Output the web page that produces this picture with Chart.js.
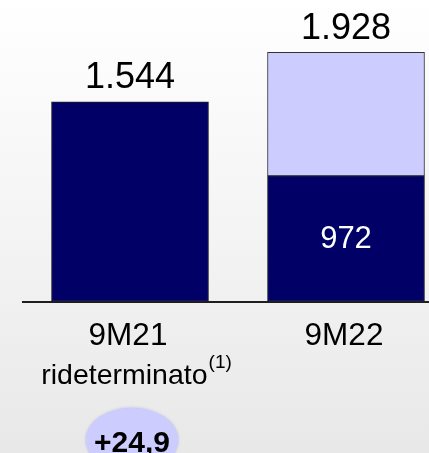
<!DOCTYPE html>
<html>
<head>
<meta charset="utf-8">
<script src="https://cdn.jsdelivr.net/npm/chart.js@4/dist/chart.umd.min.js"></script>
<style>
  html, body { margin: 0; padding: 0; }
  #frame {
    width: 429px; height: 453px; overflow: hidden; position: relative;
    background: linear-gradient(to bottom, #ffffff 0%, #f3f3f3 55%, #e8e8e8 100%);
  }
  #chart { position: absolute; left: 0; top: 0; }
</style>
</head>
<body>
<div id="frame"><canvas id="chart" width="454" height="453"></canvas></div>
<script>
// Periods and their second label line (with footnote mark)
const categories = ['9M21', '9M22'];
const categoryNotes = ['rideterminato', ''];
const noteMarks = ['(1)', ''];

// Stacked values (millions): dark base segment and light upper segment
const baseValues = [1544, 972];
const upperValues = [null, 956];

const totals = baseValues.map((v, i) => v + (upperValues[i] || 0));
const growthPct = (totals[1] / totals[0] - 1) * 100;
const growthLabel = '+' + growthPct.toFixed(1).replace('.', ',');

const NAVY = '#000066';
const LAVENDER = '#ccccff';
const FONT = '"Liberation Sans", Arial, sans-serif';

function fmtThousands(v) {
  return String(v).replace(/\B(?=(\d{3})+(?!\d))/g, '.');
}

const annotations = {
  id: 'annotations',
  afterDatasetsDraw(chart) {
    const { ctx, chartArea, scales } = chart;
    const x = scales.x, y = scales.y;
    ctx.save();

    // baseline axis
    ctx.strokeStyle = '#1e1e1e';
    ctx.lineWidth = 2;
    ctx.beginPath();
    ctx.moveTo(chartArea.left, chartArea.bottom + 0.5);
    ctx.lineTo(chart.width, chartArea.bottom + 0.5);
    ctx.stroke();

    categories.forEach((cat, i) => {
      const cx = x.getPixelForValue(i);

      // total above each bar
      ctx.fillStyle = '#000';
      ctx.font = '36px ' + FONT;
      ctx.textAlign = 'center';
      ctx.textBaseline = 'alphabetic';
      ctx.fillText(fmtThousands(totals[i]), cx, y.getPixelForValue(totals[i]) - 13.5);

      // base segment value inside stacked bars
      if (upperValues[i] != null) {
        const yMid = (y.getPixelForValue(0) + y.getPixelForValue(baseValues[i])) / 2;
        ctx.fillStyle = '#ffffff';
        ctx.font = '31px ' + FONT;
        ctx.textBaseline = 'middle';
        ctx.fillText(fmtThousands(baseValues[i]), cx, yMid + 1);
      }

      // category label
      ctx.fillStyle = '#000';
      ctx.textBaseline = 'alphabetic';
      ctx.font = '31.5px ' + FONT;
      ctx.textAlign = 'center';
      ctx.fillText(cat, cx - 2, chartArea.bottom + 43.5);

      // second line with superscript footnote
      if (categoryNotes[i]) {
        ctx.font = '28.5px ' + FONT;
        const w1 = ctx.measureText(categoryNotes[i]).width;
        ctx.font = '19px ' + FONT;
        const w2 = ctx.measureText(noteMarks[i]).width;
        const startX = cx + 6 - (w1 + w2) / 2;
        ctx.textAlign = 'left';
        ctx.font = '28.5px ' + FONT;
        ctx.fillText(categoryNotes[i], startX, chartArea.bottom + 82);
        ctx.font = '19px ' + FONT;
        ctx.fillText(noteMarks[i], startX + w1 + 1, chartArea.bottom + 66);
      }
    });

    // growth bubble under the first period
    const bx = x.getPixelForValue(0) + 2;
    const by = 440;
    ctx.save();
    ctx.shadowColor = 'rgba(160,160,230,0.8)';
    ctx.shadowBlur = 3;
    ctx.fillStyle = LAVENDER;
    ctx.beginPath();
    ctx.ellipse(bx, by, 46, 32, 0, 0, Math.PI * 2);
    ctx.fill();
    ctx.restore();
    ctx.fillStyle = '#000';
    ctx.font = 'bold 30px ' + FONT;
    ctx.textAlign = 'center';
    ctx.textBaseline = 'alphabetic';
    ctx.fillText(growthLabel, bx, 452);

    ctx.restore();
  }
};

new Chart(document.getElementById('chart'), {
  type: 'bar',
  data: {
    labels: categories,
    datasets: [
      {
        data: baseValues,
        backgroundColor: NAVY,
        borderColor: '#222222',
        borderWidth: 1,
        borderSkipped: false,
        barThickness: 157
      },
      {
        data: upperValues,
        backgroundColor: LAVENDER,
        borderColor: '#333333',
        borderWidth: 1,
        borderSkipped: false,
        barThickness: 157
      }
    ]
  },
  options: {
    responsive: false,
    animation: false,
    layout: { padding: { left: 22, right: 0, top: 43, bottom: 151.5 } },
    plugins: { legend: { display: false }, tooltip: { enabled: false } },
    scales: {
      x: { display: false, stacked: true },
      y: { display: false, stacked: true, min: 0, max: 2000 }
    }
  },
  plugins: [annotations]
});
</script>
</body>
</html>
